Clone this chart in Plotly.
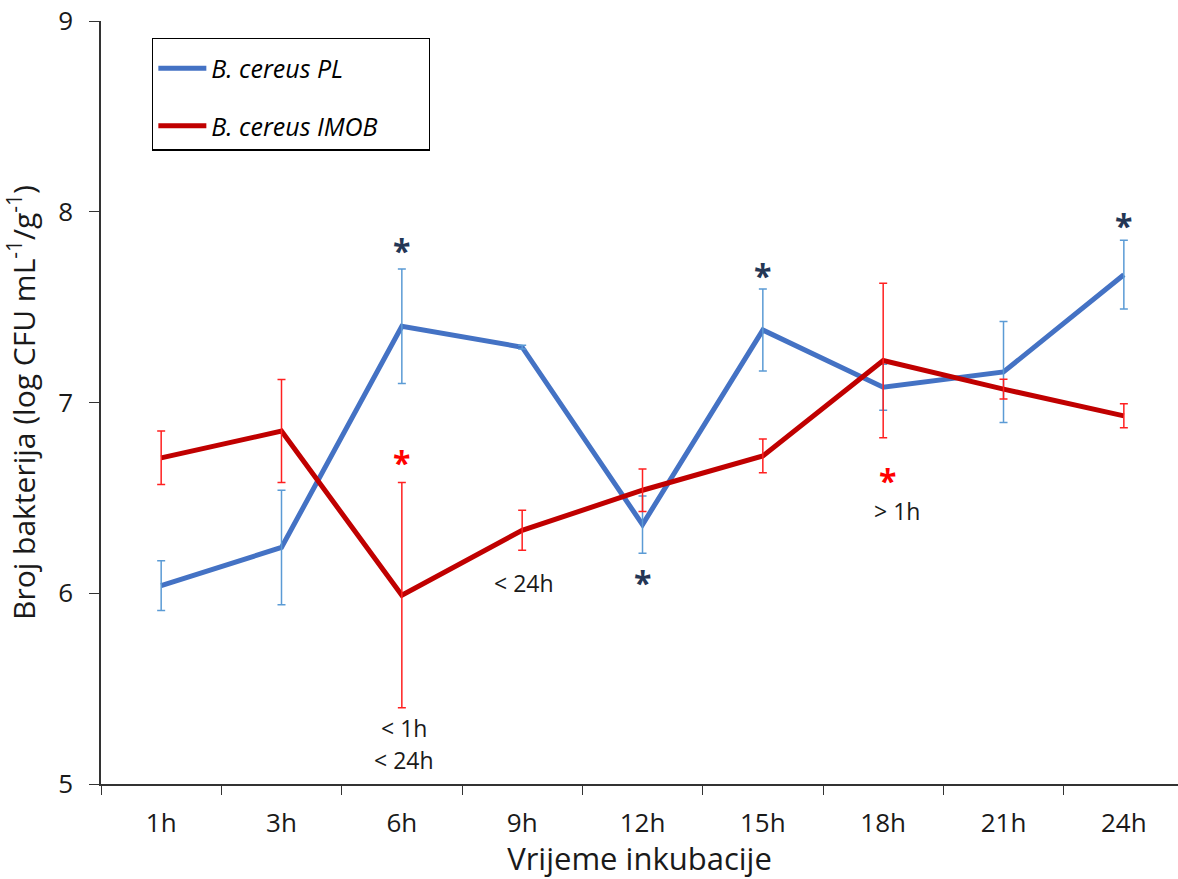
import plotly.graph_objects as go

categories = ["1h", "3h", "6h", "9h", "12h", "15h", "18h", "21h", "24h"]
pl_values = [6.04, 6.24, 7.40, 7.29, 6.36, 7.38, 7.08, 7.16, 7.67]
pl_errors = [0.13, 0.30, 0.30, 0.01, 0.15, 0.215, 0.12, 0.265, 0.18]
imob_values = [6.71, 6.85, 5.99, 6.33, 6.54, 6.72, 7.22, 7.07, 6.93]
imob_errors = [0.14, 0.27, 0.59, 0.105, 0.112, 0.088, 0.405, 0.052, 0.063]

series_names = ["B. cereus PL", "B. cereus IMOB"]
y_ticks = [5, 6, 7, 8, 9]

# significance markers
star_blue = [("6h", 7.82), ("12h", 6.075), ("15h", 7.686), ("24h", 7.948)]
star_red = [("6h", 6.709), ("18h", 6.611)]
notes = [("9h", 6.054, "< 24h"), ("6h", 5.293, "< 1h"), ("6h", 5.126, "< 24h"), ("18h", 6.431, "> 1h")]

FONT = "Open Sans"
BLUE = "#4472C4"
BLUE_ERR = "#5B9BD5"
RED = "#C00000"
RED_ERR = "#FF2020"
NAVY = "#243655"
PAD = "\u00a0" * 7

fig = go.Figure()
fig.add_trace(go.Scatter(x=categories, y=pl_values, mode="lines", name=series_names[0] + PAD,
                         line=dict(color=BLUE, width=5), legendgroup="a"))
fig.add_trace(go.Scatter(x=categories, y=pl_values, mode="markers", showlegend=False,
                         marker=dict(size=1, color="rgba(0,0,0,0)"),
                         error_y=dict(type="data", array=pl_errors, color=BLUE_ERR, thickness=1.5, width=4)))
fig.add_trace(go.Scatter(x=categories, y=imob_values, mode="lines", name=series_names[1] + PAD,
                         line=dict(color=RED, width=5), legendgroup="b"))
fig.add_trace(go.Scatter(x=categories, y=imob_values, mode="markers", showlegend=False,
                         marker=dict(size=1, color="rgba(0,0,0,0)"),
                         error_y=dict(type="data", array=imob_errors, color=RED_ERR, thickness=1.5, width=4)))

for cat, yv in star_blue:
    fig.add_annotation(x=cat, y=yv, text="<b>*</b>", showarrow=False, yanchor="middle", yshift=-4,
                       font=dict(family=FONT, size=32, color=NAVY))
for cat, yv in star_red:
    fig.add_annotation(x=cat, y=yv, text="<b>*</b>", showarrow=False, yanchor="middle", yshift=-4,
                       xshift=4 if cat == "18h" else 0,
                       font=dict(family=FONT, size=32, color="#FF0000"))
for cat, yv, txt in notes:
    fig.add_annotation(x=cat, y=yv, text=txt, showarrow=False, yanchor="middle",
                       xshift=14 if txt == "> 1h" else 2,
                       font=dict(family=FONT, size=23, color="#1a1a1a"))

fig.update_layout(
    width=1178, height=879,
    margin=dict(l=101, r=0, t=21, b=95),
    paper_bgcolor="white", plot_bgcolor="white",
    font=dict(family=FONT, size=26, color="#1a1a1a"),
    showlegend=True,
    legend=dict(x=0.0474, y=0.978, xanchor="left", yanchor="top",
                bordercolor="#000000", borderwidth=1.3, bgcolor="white",
                font=dict(family=FONT, size=25, color="#000000", style="italic"),
                title=dict(text="\u00a0", font=dict(size=5)),
                itemwidth=48, tracegroupgap=22),
    xaxis=dict(type="category", range=[-0.5, 8.45], tickson="boundaries",
               showline=True, linecolor="#333333", linewidth=1.5,
               ticks="outside", ticklen=9, tickcolor="#333333", tickwidth=1.3,
               showgrid=False, zeroline=False, ticklabelstandoff=15,
               title=dict(text="Vrijeme inkubacije", font=dict(family=FONT, size=31), standoff=2)),
    yaxis=dict(range=[5, 9], tickvals=y_ticks, showline=True, linecolor="#333333", linewidth=1.5,
               ticks="outside", ticklen=10, tickcolor="#333333", tickwidth=1.3,
               showgrid=False, zeroline=False, ticklabelstandoff=11,
               title=dict(text="Broj bakterija (log CFU mL<sup>-1</sup>/g<sup>-1</sup>)",
                          font=dict(family=FONT, size=30), standoff=14)),
)

fig.write_html("out.html")
